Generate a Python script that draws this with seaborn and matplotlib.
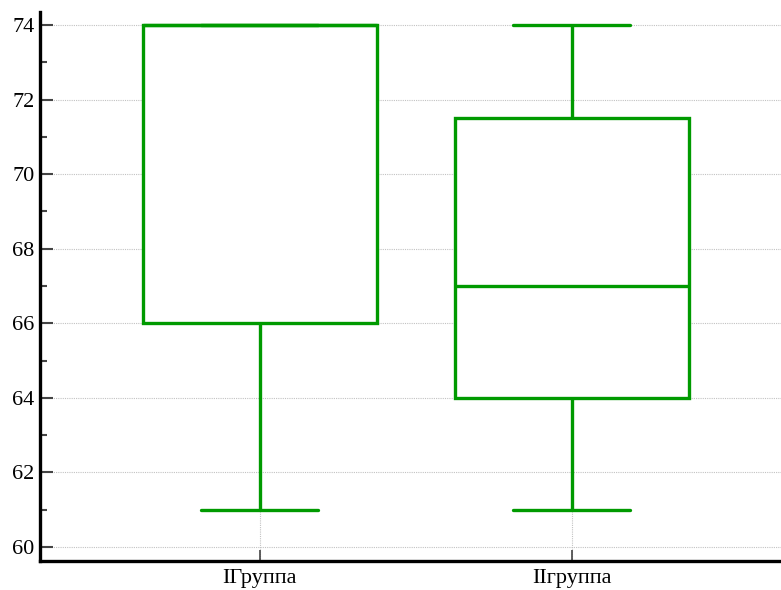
import matplotlib
matplotlib.use("Agg")
import matplotlib.pyplot as plt
from matplotlib.ticker import MultipleLocator
import pandas as pd
import seaborn as sns

groups = ["IГруппа", "IIгруппа"]
group1_values = [61, 66, 74, 74, 74]
group2_values = [61, 64, 67, 71.5, 74]
y_ticks = [60, 62, 64, 66, 68, 70, 72, 74]

df = pd.DataFrame({
    "group": [groups[0]] * len(group1_values) + [groups[1]] * len(group2_values),
    "value": group1_values + group2_values,
})

sns.set_theme(style="white")
plt.rcParams["font.family"] = ["Liberation Serif", "DejaVu Serif"]

fig = plt.figure(figsize=(7.81, 5.90), dpi=100)
ax = fig.add_axes([40 / 781, 29 / 590, 741 / 781, 549 / 590])

green = "#009a00"
line_kw = dict(color=green, linewidth=2.4)
sns.boxplot(
    data=df, x="group", y="value", order=groups, ax=ax,
    width=0.75, color="white", linecolor=green, linewidth=2.4,
    whis=1.5, showfliers=False, saturation=1,
    boxprops=dict(facecolor="white", edgecolor=green, linewidth=2.4),
    whiskerprops=line_kw, capprops=line_kw, medianprops=line_kw,
)

y_bottom = 59.625
ax.set_xlim(-0.705, 1.67)
ax.set_ylim(y_bottom, 74.35)
ax.set_yticks(y_ticks)
ax.yaxis.set_minor_locator(MultipleLocator(1))
ax.set_xlabel("")
ax.set_ylabel("")

# dotted grid behind the boxes: horizontal at major ticks, vertical at each group
grid_kw = dict(linestyle=(0, (1, 1)), color="#c2c2c2", linewidth=0.8, zorder=0.5)
ax.grid(True, which="major", axis="y", **grid_kw)
ax.vlines(range(len(groups)), y_bottom, y_ticks[-1], **grid_kw)
ax.set_axisbelow(True)

for side in ("top", "right"):
    ax.spines[side].set_visible(False)
for side in ("left", "bottom"):
    ax.spines[side].set_color("black")
    ax.spines[side].set_linewidth(2.4)

ax.tick_params(axis="y", which="major", direction="in", length=9, width=1.5,
               color="#444444", labelsize=16, labelcolor="black", pad=4, left=True)
ax.tick_params(axis="y", which="minor", direction="in", length=5, width=1.5,
               color="#444444", left=True)
ax.tick_params(axis="x", which="major", direction="in", length=8, width=1.2,
               color="#444444", labelsize=16, labelcolor="black", pad=6, bottom=True)

fig.savefig("out.png", dpi=100)
